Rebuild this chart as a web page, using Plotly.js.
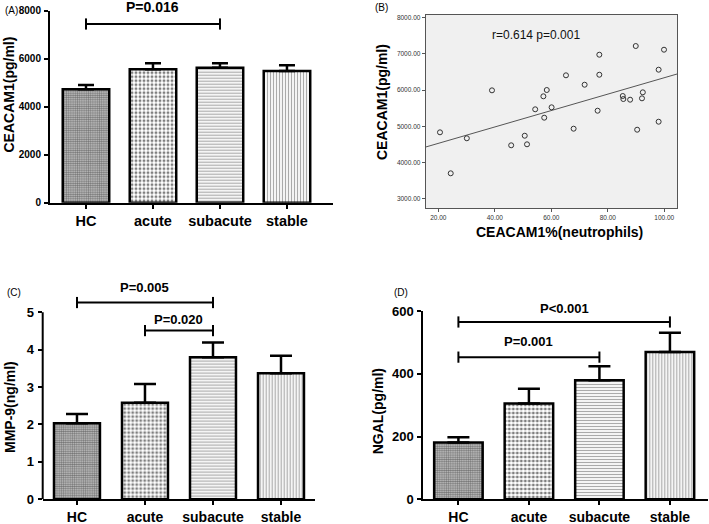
<!DOCTYPE html>
<html><head><meta charset="utf-8">
<script src="https://cdn.plot.ly/plotly-3.0.1.min.js"></script>
<style>html,body{margin:0;padding:0;background:#fff}#chart{width:709px;height:524px}</style>
</head><body><div id="chart"></div>
<script>
// ---------- DATA ----------
const groups = ['HC', 'acute', 'subacute', 'stable'];

// (A) CEACAM1 (pg/ml): mean and upper error
const ceacamMean = [4725, 5558, 5625, 5488];
const ceacamErr  = [180, 250, 183, 237];

// (C) MMP-9 (ng/ml)
const mmpMean = [2.03, 2.58, 3.80, 3.37];
const mmpErr  = [0.25, 0.50, 0.39, 0.47];

// (D) NGAL (pg/ml)
const ngalMean = [181, 305, 379, 469];
const ngalErr  = [17, 47, 45, 62];

// significance brackets: [from, to, value, label]
const bracketsA = [['HC', 'subacute', 7446, 'P=0.016']];
const bracketsC = [['HC', 'subacute', 5.26, 'P=0.005'], ['acute', 'subacute', 4.51, 'P=0.020']];
const bracketsD = [['HC', 'stable', 565, 'P<0.001'], ['HC', 'subacute', 453, 'P=0.001']];

// (B) scatter: CEACAM1% (neutrophils) vs CEACAM1 (pg/ml)
const neutroPct = [20.6, 24.4, 30.1, 39.0, 45.8, 50.6, 51.4, 54.3, 57.5, 57.2, 58.4, 60.1, 65.2, 67.9,
                   71.8, 76.4, 77.0, 77.0, 85.3, 85.5, 87.9, 89.9, 90.4, 92.1, 92.4, 98.0, 98.0, 99.9];
const ceacamConc = [4834, 3702, 4669, 5994, 4475, 4740, 4503, 5470, 5238, 5829, 6003, 5525, 6409, 4934,
                    6149, 5431, 6978, 6425, 5837, 5754, 5735, 7218, 4906, 5773, 5939, 6564, 5127, 7116];
const corrText = 'r=0.614 p=0.001';

// ---------- STYLE / LAYOUT ----------
const W = 709, H = 524;
const fx = px => px / W;
const fy = py => 1 - py / H;
const FONT = 'Liberation Sans, Arial, sans-serif';

const patShape = ['.', '.', '-', '|'];
const patSize = [2.2, 4, 3, 3];
const patSolid = [0.55, 0.44, 0.42, 0.42];
const patFg = ['#222', '#000', '#555', '#555'];
const patBg = ['#c8c8c8', '#fff', '#fff', '#fff'];

function barTrace(means, errs, xa, ya, width, capw) {
  return {
    type: 'bar', x: groups, y: means, xaxis: xa, yaxis: ya, width: width,
    marker: {
      color: '#fff',
      line: {color: '#000', width: 2.5},
      pattern: {shape: patShape, size: patSize, solidity: patSolid, fgcolor: patFg, bgcolor: patBg, fillmode: 'overlay'}
    },
    error_y: {type: 'data', symmetric: false, array: errs, arrayminus: errs.map(() => 0),
              color: '#000', thickness: 2.5, width: capw},
    showlegend: false, hoverinfo: 'skip'
  };
}

function bracketTraces(list, xa, ya) {
  return list.map(b => ({
    type: 'scatter', mode: 'lines+markers', x: [b[0], b[1]], y: [b[2], b[2]],
    xaxis: xa, yaxis: ya, cliponaxis: false,
    line: {color: '#000', width: 2},
    marker: {symbol: 'line-ns-open', size: 8, line: {color: '#000', width: 2}},
    showlegend: false, hoverinfo: 'skip'
  }));
}

function bracketLabels(list, xa, ya, fsize, shifts) {
  return list.map((b, i) => ({
    xref: xa, yref: ya, x: (groups.indexOf(b[0]) + groups.indexOf(b[1])) / 2, y: b[2],
    xanchor: 'center', yanchor: 'bottom', yshift: shifts[i], showarrow: false, text: b[3],
    font: {family: FONT, size: fsize, color: '#000', weight: 'bold'}
  }));
}

// regression line from the scatter data
const n = neutroPct.length;
const mx = neutroPct.reduce((a, b) => a + b, 0) / n;
const my = ceacamConc.reduce((a, b) => a + b, 0) / n;
let sxy = 0, sxx = 0;
for (let i = 0; i < n; i++) { sxy += (neutroPct[i] - mx) * (ceacamConc[i] - my); sxx += (neutroPct[i] - mx) ** 2; }
const slope = sxy / sxx, icpt = my - slope * mx;
const xRangeB = [15.54, 104.5];

const traces = [
  barTrace(ceacamMean, ceacamErr, 'x', 'y', 0.694, 8),
  ...bracketTraces(bracketsA, 'x', 'y'),
  {
    type: 'scatter', mode: 'lines', x: xRangeB, y: xRangeB.map(v => icpt + slope * v),
    xaxis: 'x2', yaxis: 'y2', line: {color: '#555', width: 1}, showlegend: false, hoverinfo: 'skip'
  },
  {
    type: 'scatter', mode: 'markers', x: neutroPct, y: ceacamConc, xaxis: 'x2', yaxis: 'y2',
    marker: {symbol: 'circle-open', size: 5, color: '#333', line: {width: 1, color: '#333'}},
    showlegend: false, hoverinfo: 'skip'
  },
  barTrace(mmpMean, mmpErr, 'x3', 'y3', 0.676, 11),
  ...bracketTraces(bracketsC, 'x3', 'y3'),
  barTrace(ngalMean, ngalErr, 'x4', 'y4', 0.688, 11),
  ...bracketTraces(bracketsD, 'x4', 'y4')
];

const catAxis = (dom, anchor, range, fs) => ({
  domain: dom, anchor: anchor, type: 'category', range: range,
  showline: true, linecolor: '#000', linewidth: 2, ticks: 'outside', ticklen: 4, tickwidth: 2, tickcolor: '#000',
  tickfont: {family: FONT, size: fs, color: '#000', weight: 'bold'}, showgrid: false, zeroline: false,
  fixedrange: true
});
const valAxis = (dom, anchor, range, tickvals, fs, showline) => ({
  domain: dom, anchor: anchor, range: range, tickvals: tickvals,
  showline: showline, linecolor: '#000', linewidth: 2, ticks: 'outside', ticklen: 4, tickwidth: 2, tickcolor: '#000',
  tickfont: {family: FONT, size: fs, color: '#000', weight: 'bold'}, showgrid: false, zeroline: false,
  ticklabelstandoff: 1, fixedrange: true
});

const xDomC = [fx(42.7), fx(315)];
const titleFont = {family: FONT, size: 14, color: '#000', weight: 'bold'};
const letterFont = {family: FONT, size: 10, color: '#000'};

const layout = {
  width: W, height: H, margin: {l: 0, r: 0, t: 0, b: 0},
  paper_bgcolor: '#fff', plot_bgcolor: 'rgba(0,0,0,0)', showlegend: false, bargap: 0,
  font: {family: FONT, color: '#000'},
  xaxis: catAxis([fx(50), fx(333)], 'y', [-0.537, 3.687], 14.5),
  yaxis: valAxis([fy(202.7), fy(10.7)], 'x', [0, 8000], [0, 2000, 4000, 6000, 8000], 10, true),
  xaxis2: {
    domain: [fx(425.7), fx(677)], anchor: 'y2', range: xRangeB, tickvals: [20, 40, 60, 80, 100], tickformat: '.2f',
    showline: true, mirror: true, linecolor: '#555', linewidth: 1, ticks: 'outside', ticklen: 3, tickcolor: '#555',
    tickfont: {family: FONT, size: 6.5, color: '#333'}, showgrid: false, zeroline: false, fixedrange: true
  },
  yaxis2: {
    domain: [fy(208.3), fy(15)], anchor: 'x2', range: [2735, 8075], tickvals: [3000, 4000, 5000, 6000, 7000, 8000], tickformat: '.2f',
    showline: true, mirror: true, linecolor: '#555', linewidth: 1, ticks: 'outside', ticklen: 3, tickcolor: '#555',
    tickfont: {family: FONT, size: 6.5, color: '#333'}, showgrid: false, zeroline: false, fixedrange: true
  },
  xaxis3: catAxis(xDomC, 'y3', [-0.504, 3.5], 14),
  yaxis3: valAxis([fy(499.3), fy(278.6)], 'x3', [0, 5.9], [0, 1, 2, 3, 4, 5], 13, false),
  xaxis4: catAxis([fx(423.3), fx(708)], 'y4', [-0.498, 3.54], 14),
  yaxis4: valAxis([fy(499.3), fy(311)], 'x4', [0, 600], [0, 200, 400, 600], 13, true),
  shapes: [
    {type: 'rect', xref: 'x2 domain', yref: 'y2 domain', x0: 0, x1: 1, y0: 0, y1: 1,
     fillcolor: '#f0f0f0', line: {width: 0}, layer: 'below'},
    {type: 'line', xref: 'paper', yref: 'y3', x0: xDomC[0], x1: xDomC[0], y0: 0, y1: 5,
     line: {color: '#000', width: 2}}
  ],
  annotations: [
    ...bracketLabels(bracketsA, 'x', 'y', 14, [7]),
    ...bracketLabels(bracketsC, 'x3', 'y3', 13, [6, 2]),
    ...bracketLabels(bracketsD, 'x4', 'y4', 13, [4, 6]),
    // panel letters
    {xref: 'paper', yref: 'paper', x: fx(3), y: fy(11), xanchor: 'left', yanchor: 'middle', text: '(A)', showarrow: false, font: letterFont},
    {xref: 'paper', yref: 'paper', x: fx(373), y: fy(7), xanchor: 'left', yanchor: 'middle', text: '(B)', showarrow: false, font: letterFont},
    {xref: 'paper', yref: 'paper', x: fx(5), y: fy(292), xanchor: 'left', yanchor: 'middle', text: '(C)', showarrow: false, font: letterFont},
    {xref: 'paper', yref: 'paper', x: fx(392), y: fy(292), xanchor: 'left', yanchor: 'middle', text: '(D)', showarrow: false, font: letterFont},
    // axis titles
    {xref: 'paper', yref: 'paper', x: fx(8.5), y: fy(95), xanchor: 'center', yanchor: 'middle', textangle: -90,
     text: 'CEACAM1(pg/ml)', showarrow: false, font: titleFont},
    {xref: 'paper', yref: 'paper', x: fx(382.5), y: fy(102.5), xanchor: 'center', yanchor: 'middle', textangle: -90,
     text: 'CEACAM1(pg/ml)', showarrow: false, font: titleFont},
    {xref: 'paper', yref: 'paper', x: fx(559), y: fy(232), xanchor: 'center', yanchor: 'middle',
     text: 'CEACAM1%(neutrophils)', showarrow: false, font: titleFont},
    {xref: 'paper', yref: 'paper', x: fx(9.5), y: fy(407.5), xanchor: 'center', yanchor: 'middle', textangle: -90,
     text: 'MMP-9(ng/ml)', showarrow: false, font: titleFont},
    {xref: 'paper', yref: 'paper', x: fx(378.3), y: fy(411), xanchor: 'center', yanchor: 'middle', textangle: -90,
     text: 'NGAL(pg/ml)', showarrow: false, font: titleFont},
    // correlation text
    {xref: 'paper', yref: 'paper', x: fx(536), y: fy(35), xanchor: 'center', yanchor: 'middle',
     text: corrText, showarrow: false, font: {family: FONT, size: 12, color: '#111'}}
  ]
};

Plotly.newPlot('chart', traces, layout, {staticPlot: true, displayModeBar: false});
</script>
</body></html>
